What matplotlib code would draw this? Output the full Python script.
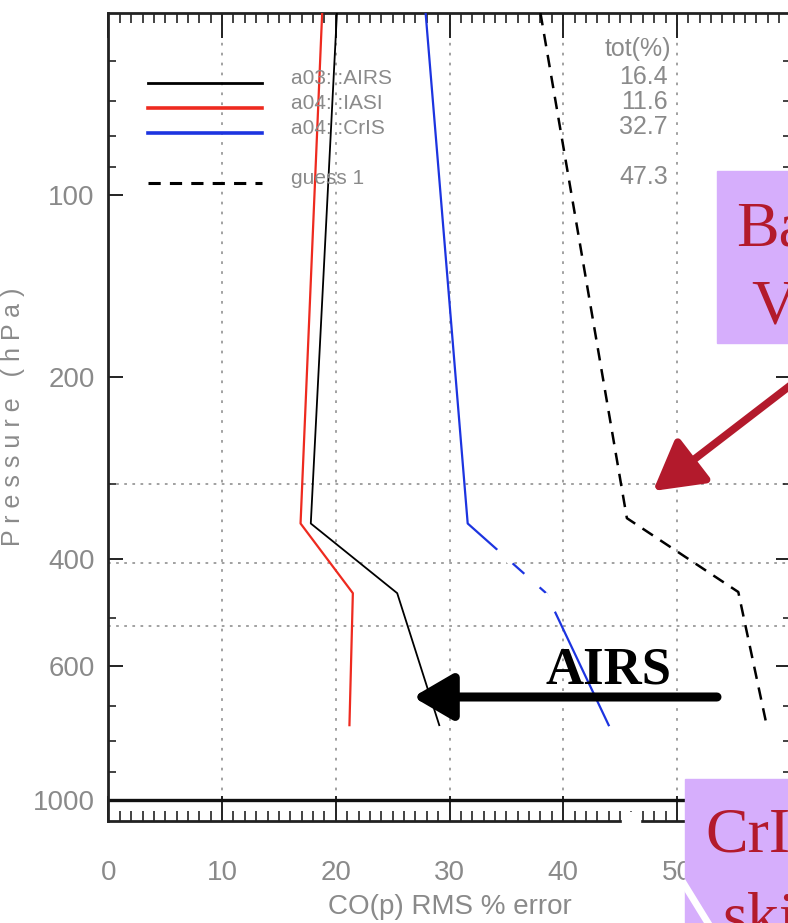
import matplotlib
matplotlib.use("Agg")
import matplotlib.pyplot as plt
from matplotlib.patches import Rectangle, FancyArrowPatch
from matplotlib.lines import Line2D
from matplotlib.ticker import FixedLocator, NullFormatter

# ---------------- data ----------------
levels = [50, 349, 455, 752]                 # hPa
airs = [20.1, 17.8, 25.4, 29.1]
iasi = [18.8, 16.9, 21.5, 21.2]
cris = [27.9, 31.6, 38.5, 44.0]
guess_levels = [50, 342, 453, 753]
guess = [38.0, 45.6, 55.4, 57.9]

legend_labels = ["a03: :AIRS", "a04: :IASI", "a04: :CrIS", "guess 1"]
tot_values = ["16.4", "11.6", "32.7", "47.3"]

ytick_major = [100, 200, 400, 600, 1000]
ytick_minor = [60, 70, 80, 90, 300, 500, 700, 800, 900]
hgrid = [300, 406, 515]
xticks_major = [0, 10, 20, 30, 40, 50, 60]
xtick_labels = ["0", "10", "20", "30", "40", "50", ""]

# ---------------- style ----------------
W, H = 788, 923
GRAY = "#8a8a8a"
SANS = ["Liberation Sans", "DejaVu Sans"]
SERIF = ["Liberation Serif", "DejaVu Serif"]

fig = plt.figure(figsize=(W / 100, H / 100), dpi=100)

def fx(px):
    return px / W

def fy(py):
    return 1 - py / H

ax = fig.add_axes([fx(108.4), fy(821), fx(790.6) - fx(108.4), fy(13) - fy(821)])
ax.set_yscale("log")
ax.set_ylim(1083, 50)
ax.set_xlim(0, 60)

# grid lines
for xv in [10, 20, 30, 40, 50]:
    ax.plot([xv, xv], [50, 1000], color="#9a9a9a", lw=1.3, ls=(0, (1.5, 4)), zorder=1)
for p in hgrid:
    ax.axhline(p, color="#9a9a9a", lw=1.3, ls=(0, (1.5, 3)), zorder=1)
ax.axhline(1000, color="#111111", lw=2.4, zorder=2)

# data lines
ax.plot(airs, levels, color="black", lw=1.3, zorder=3)
ax.plot(iasi, levels, color="#ee2a1f", lw=1.6, zorder=3)
ax.plot(cris, levels, color="#1c34e0", lw=1.6, zorder=3)
ax.plot(guess, guess_levels, color="black", lw=1.8, ls=(0, (5, 3.5)), zorder=3)

# spines & ticks
for s in ax.spines.values():
    s.set_linewidth(2.0)
    s.set_color("#222222")
ax.yaxis.set_major_locator(FixedLocator(ytick_major))
ax.yaxis.set_minor_locator(FixedLocator(ytick_minor))
ax.yaxis.set_minor_formatter(NullFormatter())
ax.set_yticklabels([str(v) for v in ytick_major])
ax.xaxis.set_major_locator(FixedLocator(xticks_major))
ax.xaxis.set_minor_locator(FixedLocator([v for v in range(0, 61) if v % 10]))
ax.set_xticklabels(xtick_labels)
ax.tick_params(axis="both", which="major", direction="in", length=18, width=1.4,
               color="#222222", top=True, right=True, labelcolor=GRAY, labelsize=20, pad=10)
ax.tick_params(axis="y", which="major", length=11)
ax.tick_params(axis="both", which="minor", direction="in", length=7, width=1.2,
               color="#222222", top=True, right=True)
ax.tick_params(axis="y", which="minor", length=6)
for lab in ax.get_xticklabels() + ax.get_yticklabels():
    lab.set_family(SANS)
ax.tick_params(axis="x", which="major", pad=28)

ax.set_xlabel("CO(p) RMS % error", color=GRAY, fontsize=20, family=SANS, labelpad=6)
ax.set_ylabel("P r e s s u r e   ( h P a )", color=GRAY, fontsize=18, family=SANS)
ax.yaxis.set_label_coords((25 - 108.4) / 682.2, 0.5)

# legend (drawn manually to match layout)
leg_y = [83, 108, 133, 183]
leg_styles = [dict(color="black", lw=2.0, ls="-"),
              dict(color="#ee2a1f", lw=2.6, ls="-"),
              dict(color="#1c34e0", lw=2.6, ls="-"),
              dict(color="black", lw=2.2, ls=(0, (4, 3)))]
for yy, st, lab, tv in zip(leg_y, leg_styles, legend_labels, tot_values):
    fig.add_artist(Line2D([fx(148), fx(262)], [fy(yy), fy(yy)], transform=fig.transFigure, **st))
    fig.text(fx(291), fy(yy + 1), lab, color=GRAY, fontsize=15, family=SANS, va="baseline", ha="left")
    fig.text(fx(668), fy(yy + 1), tv, color=GRAY, fontsize=18, family=SANS, va="baseline", ha="right")
fig.text(fx(671), fy(56), "tot(%)", color=GRAY, fontsize=18, family=SANS, va="baseline", ha="right")

# white artefacts crossing the CrIS line / axis
for (x0, y0, x1, y1) in [(500, 551, 510, 562), (527, 575, 538, 585), (546, 596, 554, 609)]:
    fig.add_artist(Line2D([fx(x0), fx(x1)], [fy(y0), fy(y1)], transform=fig.transFigure,
                          color="white", lw=4, zorder=10))
fig.add_artist(Rectangle((fx(622), fy(825)), fx(640) - fx(622), fy(812) - fy(825),
                         transform=fig.transFigure, color="white", zorder=10))

# overlay annotations
PURPLE = "#d6aefc"
DARKRED = "#b31a2c"
fig.add_artist(Rectangle((fx(717), fy(343)), fx(800) - fx(717), fy(171) - fy(343),
                         transform=fig.transFigure, color=PURPLE, zorder=11))
fig.text(fx(736), fy(245), "Ba", color=DARKRED, fontsize=46, family=SERIF, zorder=12, va="baseline")
fig.text(fx(751), fy(323), "V", color=DARKRED, fontsize=46, family=SERIF, zorder=12, va="baseline")

fig.add_artist(Rectangle((fx(685), fy(923)), fx(800) - fx(685), fy(779) - fy(923),
                         transform=fig.transFigure, color=PURPLE, zorder=11))
fig.add_artist(Line2D([fx(684), fx(708)], [fy(884), fy(923)], transform=fig.transFigure,
                      color="white", lw=5, zorder=12))
fig.text(fx(705), fy(852), "CrI", color=DARKRED, fontsize=46, family=SERIF, zorder=12, va="baseline")
fig.text(fx(722), fy(935), "ski", color=DARKRED, fontsize=46, family=SERIF, zorder=12, va="baseline")

# red arrow
fig.add_artist(FancyArrowPatch((fx(800), fy(378)), (fx(653), fy(491)), transform=fig.transFigure,
                               arrowstyle="-|>,head_length=1.5,head_width=0.85", mutation_scale=20,
                               color=DARKRED, lw=5.5, zorder=12, shrinkA=0, shrinkB=0))

# AIRS label + black arrow
fig.text(fx(545), fy(683), "AIRS", color="black", fontsize=38, fontweight="bold", family=SERIF,
         zorder=12, va="baseline")
fig.add_artist(FancyArrowPatch((fx(717), fy(697)), (fx(413), fy(697)), transform=fig.transFigure,
                               arrowstyle="-|>,head_length=1.2,head_width=0.7", mutation_scale=20,
                               color="black", lw=6.5, zorder=12, shrinkA=0, shrinkB=0))

fig.savefig("out.png", dpi=100)
